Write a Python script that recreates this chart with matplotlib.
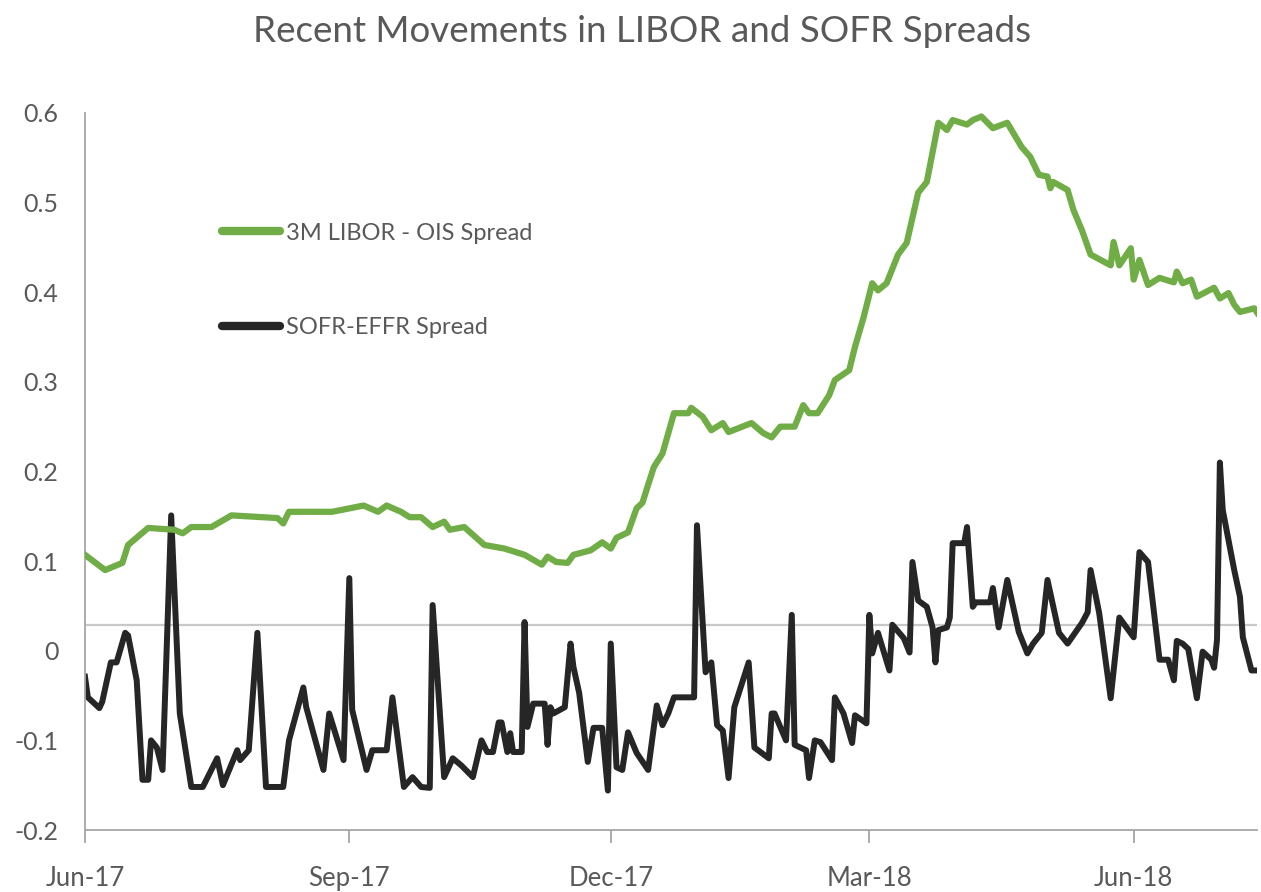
import matplotlib
matplotlib.use("Agg")
import matplotlib.pyplot as plt
import matplotlib.dates as mdates
import numpy as np

# data: day offsets from 1 Jun 2017, spread values
start = np.datetime64('2017-06-01')

libor_days = [0, 7, 13, 15, 22, 31, 34, 37, 44, 51, 67, 69, 71, 86, 97, 102, 105, 110,
              113, 117, 121, 125, 127, 132, 139, 146, 153, 159, 161, 164, 168, 170, 176,
              180, 183, 185, 189, 192, 194, 198, 201, 205, 210, 211, 215, 218, 222, 224,
              232, 236, 239, 242, 247, 250, 252, 255, 259, 261, 266, 268, 271, 274, 276,
              279, 283, 286, 290, 293, 297, 300, 302, 307, 309, 312, 316, 321, 326, 329,
              332, 335, 336, 337, 342, 344, 347, 350, 357, 358, 360, 364, 365, 367, 370,
              374, 379, 380, 382, 385, 387, 393, 395, 398, 400, 402, 407, 408]
libor_ois = [0.107, 0.090, 0.098, 0.118, 0.137, 0.135, 0.131, 0.138, 0.138, 0.151, 0.148,
             0.142, 0.155, 0.155, 0.162, 0.155, 0.162, 0.155, 0.149, 0.149, 0.138, 0.144,
             0.135, 0.138, 0.118, 0.114, 0.107, 0.096, 0.105, 0.099, 0.098, 0.107, 0.112,
             0.121, 0.114, 0.126, 0.132, 0.159, 0.165, 0.205, 0.220, 0.265, 0.265, 0.271,
             0.261, 0.246, 0.254, 0.244, 0.254, 0.243, 0.238, 0.250, 0.250, 0.274, 0.265,
             0.265, 0.285, 0.302, 0.313, 0.339, 0.372, 0.410, 0.402, 0.410, 0.442, 0.455,
             0.511, 0.523, 0.589, 0.581, 0.592, 0.587, 0.592, 0.596, 0.583, 0.589, 0.562,
             0.551, 0.531, 0.529, 0.516, 0.523, 0.514, 0.492, 0.469, 0.442, 0.430, 0.456,
             0.430, 0.449, 0.414, 0.436, 0.408, 0.416, 0.411, 0.423, 0.410, 0.414, 0.395,
             0.405, 0.393, 0.399, 0.386, 0.378, 0.382, 0.377]

sofr_days = [0, 1, 5, 6, 9, 11, 14, 15, 18, 20, 22, 23, 25, 27, 30, 33, 37, 41, 46, 48,
             53, 54, 57, 60, 63, 69, 71, 76, 77, 83, 85, 90, 92, 93, 98, 100, 105, 107,
             111, 114, 117, 120, 121, 125, 128, 131, 135, 138, 140, 142, 144, 145, 147,
             148, 149, 152, 153, 154, 156, 160, 161, 162, 163, 167, 169, 170, 172, 175,
             177, 180, 182, 183, 185, 187, 189, 192, 196, 199, 201, 203, 205, 212, 213,
             216, 218, 220, 222, 224, 226, 231, 233, 238, 239, 240, 244, 246, 247, 251,
             252, 254, 256, 260, 261, 264, 267, 268, 272, 273, 274, 276, 280, 281, 285,
             287, 288, 290, 293, 295, 296, 297, 300, 301, 302, 306, 307, 309, 310, 315,
             316, 318, 321, 325, 328, 330, 333, 335, 339, 342, 347, 349, 350, 353, 357,
             360, 365, 367, 370, 374, 377, 379, 380, 382, 384, 387, 389, 392, 393, 394,
             395, 396, 400, 402, 403, 406, 408]
sofr_effr = [-0.029, -0.052, -0.064, -0.057, -0.013, -0.013, 0.020, 0.017, -0.033, -0.144,
             -0.144, -0.100, -0.108, -0.133, 0.151, -0.070, -0.152, -0.152, -0.120, -0.150,
             -0.111, -0.122, -0.111, 0.020, -0.152, -0.152, -0.100, -0.041, -0.063, -0.133,
             -0.070, -0.122, 0.081, -0.066, -0.133, -0.111, -0.111, -0.052, -0.152, -0.141,
             -0.152, -0.153, 0.051, -0.141, -0.120, -0.128, -0.141, -0.100, -0.113, -0.113,
             -0.080, -0.080, -0.113, -0.092, -0.113, -0.113, 0.032, -0.085, -0.059, -0.059,
             -0.105, -0.063, -0.070, -0.063, 0.008, -0.018, -0.047, -0.124, -0.086, -0.086,
             -0.156, 0.008, -0.130, -0.133, -0.091, -0.114, -0.133, -0.061, -0.083, -0.070,
             -0.052, -0.052, 0.140, -0.024, -0.013, -0.083, -0.089, -0.142, -0.063, -0.013,
             -0.108, -0.120, -0.070, -0.070, -0.100, 0.040, -0.105, -0.111, -0.142, -0.100,
             -0.102, -0.122, -0.052, -0.070, -0.103, -0.072, -0.081, 0.040, -0.003, 0.020,
             -0.022, 0.029, 0.014, -0.002, 0.099, 0.056, 0.049, 0.026, -0.013, 0.023, 0.026,
             0.037, 0.120, 0.120, 0.138, 0.049, 0.054, 0.054, 0.070, 0.026, 0.079, 0.021,
             -0.003, 0.008, 0.020, 0.079, 0.020, 0.008, 0.031, 0.043, 0.090, 0.042, -0.053,
             0.037, 0.015, 0.110, 0.099, -0.010, -0.010, -0.033, 0.011, 0.008, 0.002, -0.053,
             -0.001, -0.010, -0.019, 0.012, 0.210, 0.157, 0.090, 0.060, 0.015, -0.022, -0.022]

ref_level = 0.029
yticks = [-0.2, -0.1, 0, 0.1, 0.2, 0.3, 0.4, 0.5, 0.6]
ytick_labels = ['-0.2', '-0.1', '0', '0.1', '0.2', '0.3', '0.4', '0.5', '0.6']

plt.rcParams['font.family'] = ['Lato', 'DejaVu Sans']
text_col = '#595959'
axis_col = '#A6A6A6'

libor_x = start + np.array(libor_days).astype('timedelta64[D]')
sofr_x = start + np.array(sofr_days).astype('timedelta64[D]')

fig = plt.figure(figsize=(12.61, 8.92), dpi=100)
ax = fig.add_axes([0.0674, 0.0695, 0.9296, 0.8039])

ax.axhline(ref_level, color='#C8C8C8', lw=1.6, zorder=1)
ax.plot(libor_x, libor_ois, color='#70AD47', lw=4.5, label='3M LIBOR - OIS Spread',
        solid_joinstyle='round', zorder=3)
ax.plot(sofr_x, sofr_effr, color='#262626', lw=4.3, label='SOFR-EFFR Spread',
        solid_joinstyle='round', zorder=2)

ax.set_xlim(start, start + np.timedelta64(408, 'D'))
ax.set_ylim(-0.2, 0.6)
ax.set_yticks(yticks)
ax.set_yticklabels(ytick_labels)

ax.xaxis.set_major_locator(mdates.MonthLocator(bymonth=[3, 6, 9, 12]))
ax.xaxis.set_major_formatter(mdates.DateFormatter('%b-%y'))

for s in ['top', 'right']:
    ax.spines[s].set_visible(False)
for s in ['left', 'bottom']:
    ax.spines[s].set_color(axis_col)
    ax.spines[s].set_linewidth(1.3)

ax.tick_params(axis='y', length=0, pad=19, labelsize=18, labelcolor=text_col)
ax.tick_params(axis='x', length=9, width=1.3, color=axis_col, pad=17, labelsize=18.5,
               labelcolor=text_col)

leg = ax.legend(loc='upper left', bbox_to_anchor=(0.117, 0.847), frameon=False,
                fontsize=17, handlelength=2.45, handletextpad=0.25, labelspacing=3.1,
                borderpad=0, borderaxespad=0, labelcolor=text_col)
for ln in leg.get_lines():
    ln.set_linewidth(6)
    ln.set_solid_capstyle('round')

fig.suptitle('Recent Movements in LIBOR and SOFR Spreads', x=0.509, y=0.983,
             fontsize=26.5, color=text_col)

fig.savefig('out.png', dpi=100)
